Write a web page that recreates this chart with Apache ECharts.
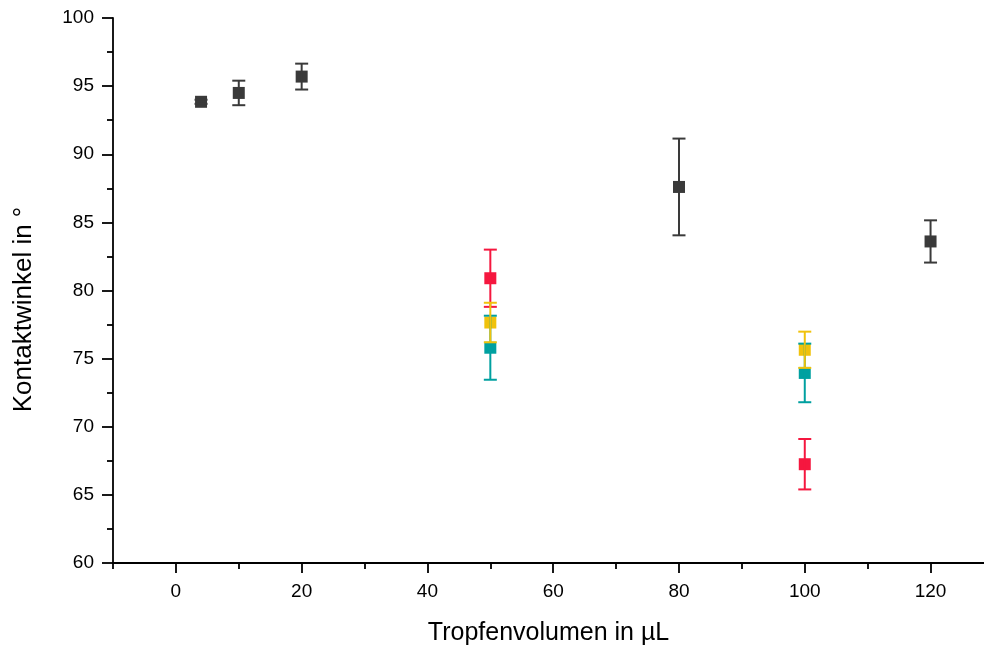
<!DOCTYPE html>
<html>
<head>
<meta charset="utf-8">
<script src="https://cdn.jsdelivr.net/npm/echarts@6/dist/echarts.min.js"></script>
<style>html,body{margin:0;padding:0;background:#fff}#c{width:984px;height:651px}</style>
</head>
<body>
<div id="c"></div>
<script>
// Data (x: drop volume in µL, y: contact angle in °, err: error bar half-length)
const blackX = [4, 10, 20, 80, 120];
const blackY = [93.85, 94.5, 95.7, 87.6, 83.6];
const blackErr = [0.15, 0.9, 0.95, 3.55, 1.55];

const redX = [50, 100];
const redY = [80.9, 67.25];
const redErr = [2.1, 1.85];

const tealX = [50, 100];
const tealY = [75.8, 73.95];
const tealErr = [2.35, 2.15];

const yellowX = [50, 100];
const yellowY = [77.65, 75.65];
const yellowErr = [1.45, 1.33];

const xMajorTicks = [0, 20, 40, 60, 80, 100, 120];
const xMinorTicks = [-10, 10, 30, 50, 70, 90, 110];

const xTitle = 'Tropfenvolumen in µL';
const yTitle = 'Kontaktwinkel in °';

const FONT = '"Liberation Sans", Arial, Helvetica, sans-serif';

const groups = [
  {name: 'black', x: blackX, y: blackY, e: blackErr, color: '#3a3a3a'},
  {name: 'red', x: redX, y: redY, e: redErr, color: '#f5173f'},
  {name: 'teal', x: tealX, y: tealY, e: tealErr, color: '#00a0a0'},
  {name: 'yellow', x: yellowX, y: yellowY, e: yellowErr, color: '#f0c20c'}
];

const series = [];
groups.forEach((g, gi) => {
  series.push({
    type: 'scatter',
    name: g.name,
    symbol: 'rect',
    symbolSize: 12,
    itemStyle: {color: g.color, opacity: 1},
    z: 2 + gi,
    data: g.x.map((v, i) => [v, g.y[i]])
  });
});
groups.forEach((g, gi) => {
  series.push({
    type: 'custom',
    name: g.name + '-err',
    z: 10 + gi,
    renderItem: function (params, api) {
      const x = api.value(0), lo = api.value(1), hi = api.value(2);
      const pLo = api.coord([x, lo]);
      const pHi = api.coord([x, hi]);
      const cw = 6.5;
      const style = {stroke: g.color, lineWidth: 2, fill: null};
      return {
        type: 'group',
        children: [
          {type: 'line', shape: {x1: pLo[0], y1: pLo[1], x2: pHi[0], y2: pHi[1]}, style: style},
          {type: 'line', shape: {x1: pLo[0] - cw, y1: pLo[1], x2: pLo[0] + cw, y2: pLo[1]}, style: style},
          {type: 'line', shape: {x1: pHi[0] - cw, y1: pHi[1], x2: pHi[0] + cw, y2: pHi[1]}, style: style}
        ]
      };
    },
    encode: {x: 0, y: [1, 2]},
    data: g.x.map((v, i) => [v, g.y[i] - g.e[i], g.y[i] + g.e[i]])
  });
});

const chart = echarts.init(document.getElementById('c'), null, {renderer: 'canvas'});
chart.setOption({
  animation: false,
  backgroundColor: '#fff',
  grid: {left: 113, right: 0, top: 18, bottom: 85, containLabel: false},
  xAxis: [{
    type: 'value',
    min: -10,
    max: 128.5,
    name: xTitle,
    nameLocation: 'middle',
    nameGap: 58,
    nameTextStyle: {fontFamily: FONT, fontSize: 25, color: '#000'},
    axisLine: {show: true, onZero: false, lineStyle: {color: '#000', width: 1.8}},
    axisTick: {show: true, length: 10, customValues: xMajorTicks, lineStyle: {color: '#000', width: 1.8}},
    axisLabel: {
      fontFamily: FONT, fontSize: 19, color: '#000', margin: 19,
      customValues: xMajorTicks
    },
    splitLine: {show: false}
  }, {
    type: 'value',
    position: 'bottom',
    min: -10,
    max: 128.5,
    axisLine: {show: false, onZero: false},
    axisTick: {show: true, length: 6, customValues: xMinorTicks, lineStyle: {color: '#000', width: 1.8}},
    axisLabel: {show: false},
    splitLine: {show: false}
  }],
  yAxis: {
    type: 'value',
    min: 60,
    max: 100,
    interval: 5,
    name: yTitle,
    nameLocation: 'middle',
    nameGap: 76,
    nameTextStyle: {fontFamily: FONT, fontSize: 26, color: '#000', padding: [0, 38, 0, 0]},
    axisLine: {show: true, onZero: false, lineStyle: {color: '#000', width: 1.8}},
    axisTick: {show: true, length: 11, lineStyle: {color: '#000', width: 1.8}},
    minorTick: {show: true, splitNumber: 2, length: 6, lineStyle: {color: '#000', width: 1.8}},
    axisLabel: {fontFamily: FONT, fontSize: 19, color: '#000', margin: 19},
    splitLine: {show: false}
  },
  series: series
});
</script>
</body>
</html>
